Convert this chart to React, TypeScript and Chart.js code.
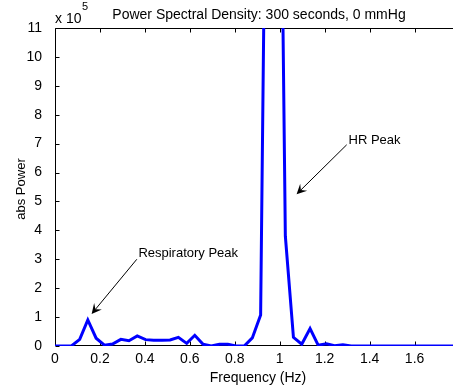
import React, { useEffect, useRef } from "react";
import { Chart, registerables } from "chart.js";

Chart.register(...registerables);

// Frequency bins (Hz)
const frequencies = [
  0, 0.037, 0.073, 0.11, 0.146, 0.183, 0.22, 0.256, 0.293, 0.329,
  0.366, 0.403, 0.439, 0.476, 0.512, 0.549, 0.586, 0.622, 0.659, 0.695,
  0.732, 0.769, 0.805, 0.842, 0.878, 0.915, 0.952, 0.988, 1.025, 1.061,
  1.098, 1.135, 1.171, 1.208, 1.244, 1.281, 1.318, 1.354, 1.391, 1.427,
  1.464, 1.501, 1.537, 1.574, 1.61, 1.647, 1.684, 1.72, 1.757, 1.793,
];

// Power in units of 10^5
const power = [
  0, 0, 0, 0.23, 0.9, 0.27, 0.03, 0.07, 0.23, 0.18,
  0.35, 0.22, 0.2, 0.2, 0.21, 0.3, 0.09, 0.37, 0.06, 0,
  0.06, 0.06, 0, 0, 0.28, 1.07, 28.0, 29.4, 3.8, 0.3,
  0.06, 0.6, 0.03, 0.08, 0.01, 0.04, 0, 0, 0, 0,
  0, 0, 0, 0, 0, 0, 0, 0, 0, 0,
];

const xMin = 0;
const xMax = 1.771;
const xStep = 0.2;
const yMin = 0;
const yMax = 11;
const yStep = 1;

const titleText = "Power Spectral Density: 300 seconds, 0 mmHg";
const xTitle = "Frequency (Hz)";
const yTitle = "abs Power";
const exponentBase = "x 10";
const exponentPower = "5";

// Annotations in data coordinates
const annotationTexts = ["Respiratory Peak", "HR Peak"];
const annotationTextX = [0.371, 1.306];
const annotationTextY = [3.09, 7.0];
const arrowStartX = [0.364, 1.298];
const arrowStartY = [3.0, 6.96];
const arrowTipX = [0.163, 1.075];
const arrowTipY = [1.11, 5.25];

const FONT = '"Liberation Sans", Arial, Helvetica, sans-serif';

const formatX = (v: number) => String(Math.round(v * 10) / 10);

const framePlugin = {
  id: "frame",
  beforeDatasetsDraw(chart: any) {
    const { ctx, chartArea: a, scales } = chart;
    const x = scales.x;
    const y = scales.y;
    ctx.save();
    ctx.strokeStyle = "#000";
    ctx.lineWidth = 1;
    ctx.beginPath();
    const L = Math.round(a.left) + 0.5;
    const B = Math.round(a.bottom) - 0.5;
    const T = Math.round(a.top) + 0.5;
    ctx.moveTo(L, T);
    ctx.lineTo(L, B);
    ctx.lineTo(a.right, B);
    ctx.moveTo(L, T);
    ctx.lineTo(a.right, T);
    for (const t of x.ticks) {
      const px = Math.round(x.getPixelForValue(t.value)) + 0.5;
      ctx.moveTo(px, B);
      ctx.lineTo(px, B - 4);
      ctx.moveTo(px, T);
      ctx.lineTo(px, T + 4);
    }
    for (const t of y.ticks) {
      const py = Math.round(y.getPixelForValue(t.value)) + 0.5;
      ctx.moveTo(L, py);
      ctx.lineTo(L + 4, py);
    }
    ctx.stroke();

    // x tick labels
    ctx.fillStyle = "#000";
    ctx.font = `14px ${FONT}`;
    ctx.textAlign = "center";
    ctx.textBaseline = "alphabetic";
    for (const t of x.ticks) {
      ctx.fillText(formatX(t.value), x.getPixelForValue(t.value), a.bottom + 17);
    }
    ctx.restore();
  },
  afterDraw(chart: any) {
    const { ctx, scales } = chart;
    const x = scales.x;
    const y = scales.y;
    ctx.save();
    ctx.fillStyle = "#000";
    ctx.textBaseline = "alphabetic";

    ctx.font = `14px ${FONT}`;
    ctx.textAlign = "center";
    ctx.fillText(titleText, 259, 19);

    ctx.textAlign = "left";
    ctx.font = `14px ${FONT}`;
    ctx.fillText(exponentBase, 55, 22.5);
    const w = ctx.measureText(exponentBase).width;
    ctx.font = `11px ${FONT}`;
    ctx.fillText(exponentPower, 55 + w + 0.5, 10);

    ctx.font = `14px ${FONT}`;
    ctx.textAlign = "center";
    ctx.fillText(xTitle, 258, 382);

    ctx.save();
    ctx.translate(24.5, 189);
    ctx.rotate(-Math.PI / 2);
    ctx.font = `13px ${FONT}`;
    ctx.textAlign = "center";
    ctx.fillText(yTitle, 0, 0);
    ctx.restore();

    ctx.font = `13px ${FONT}`;
    ctx.textAlign = "left";
    ctx.strokeStyle = "#000";
    ctx.lineWidth = 1;
    for (let i = 0; i < annotationTexts.length; i++) {
      ctx.fillText(
        annotationTexts[i],
        x.getPixelForValue(annotationTextX[i]),
        y.getPixelForValue(annotationTextY[i])
      );
      const sx = x.getPixelForValue(arrowStartX[i]);
      const sy = y.getPixelForValue(arrowStartY[i]);
      const tx = x.getPixelForValue(arrowTipX[i]);
      const ty = y.getPixelForValue(arrowTipY[i]);
      const dx = tx - sx;
      const dy = ty - sy;
      const len = Math.hypot(dx, dy);
      const ux = dx / len;
      const uy = dy / len;
      const nx = -uy;
      const ny = ux;
      const HL = 10;
      const HW = 10;
      const bx = tx - ux * HL;
      const by = ty - uy * HL;
      const notchX = tx - ux * HL * 0.6;
      const notchY = ty - uy * HL * 0.6;
      ctx.beginPath();
      ctx.moveTo(sx, sy);
      ctx.lineTo(notchX, notchY);
      ctx.stroke();
      ctx.beginPath();
      ctx.moveTo(tx, ty);
      ctx.lineTo(bx + (nx * HW) / 2, by + (ny * HW) / 2);
      ctx.lineTo(notchX, notchY);
      ctx.lineTo(bx - (nx * HW) / 2, by - (ny * HW) / 2);
      ctx.closePath();
      ctx.fill();
    }
    ctx.restore();
  },
};

export default function App() {
  const canvasRef = useRef<HTMLCanvasElement | null>(null);

  useEffect(() => {
    const canvas = canvasRef.current;
    if (!canvas) return;
    const points = frequencies.map((f, i) => ({ x: f, y: power[i] }));
    const chart = new Chart(canvas, {
      type: "line",
      data: {
        datasets: [
          {
            data: points,
            borderColor: "#0000ff",
            borderWidth: 3,
            pointRadius: 0,
            tension: 0,
            fill: false,
          },
        ],
      },
      options: {
        responsive: false,
        animation: false,
        events: [],
        layout: { padding: { left: 0, right: 0, top: 28, bottom: 0 } },
        plugins: {
          legend: { display: false },
          tooltip: { enabled: false },
          title: { display: false },
        },
        scales: {
          x: {
            type: "linear",
            min: xMin,
            max: xMax,
            grid: { display: false },
            border: { display: false },
            ticks: {
              stepSize: xStep,
              includeBounds: false,
              maxRotation: 0,
              autoSkip: false,
              display: false,
            },
            afterFit: (s: any) => {
              s.height = 45;
            },
          },
          y: {
            type: "linear",
            min: yMin,
            max: yMax,
            grid: { display: false },
            border: { display: false },
            ticks: {
              stepSize: yStep,
              padding: 5,
              color: "#000",
              font: { family: FONT, size: 14 },
              callback: (v: any) => String(Math.round(Number(v))),
            },
            afterFit: (s: any) => {
              s.width = 55;
            },
          },
        },
      },
      plugins: [framePlugin],
    });
    return () => chart.destroy();
  }, []);

  return (
    <div style={{ position: "absolute", left: 0, top: 0, width: 453, height: 391, background: "#fff" }}>
      <canvas ref={canvasRef} width={453} height={391} style={{ display: "block" }} />
    </div>
  );
}
